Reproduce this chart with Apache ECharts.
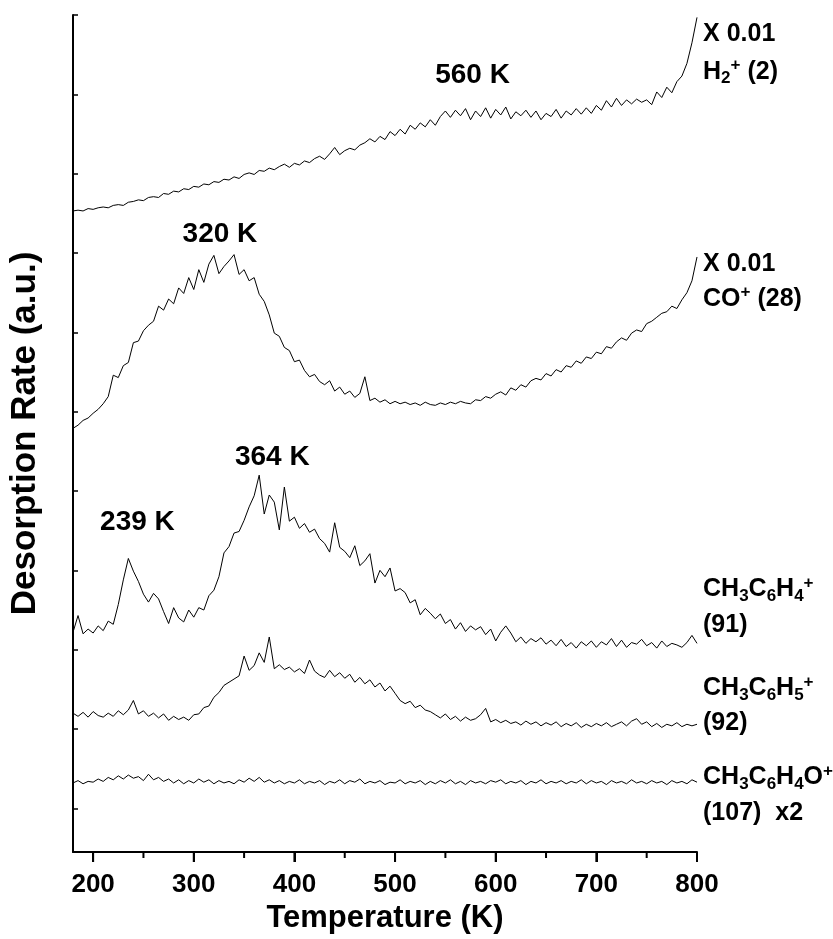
<!DOCTYPE html>
<html><head><meta charset="utf-8">
<script src="https://cdn.jsdelivr.net/npm/echarts@6/dist/echarts.min.js"></script>
<style>html,body{margin:0;padding:0;background:#fff}#c{width:833px;height:939px}</style>
</head><body><div id="c"></div>
<script>
const temperature = [
180,185,190,195,200,205,210,215,220,225,
230,235,240,245,250,255,260,265,270,275,
280,285,290,295,300,305,310,315,320,325,
330,335,340,345,350,355,360,365,370,375,
380,385,390,395,400,405,410,415,420,425,
430,435,440,445,450,455,460,465,470,475,
480,485,490,495,500,505,510,515,520,525,
530,535,540,545,550,555,560,565,570,575,
580,585,590,595,600,605,610,615,620,625,
630,635,640,645,650,655,660,665,670,675,
680,685,690,695,700,705,710,715,720,725,
730,735,740,745,750,755,760,765,770,775,
780,785,790,795,800];

const h2 = [
75.3,75.4,75.3,75.6,75.5,75.7,75.8,75.7,76.0,76.1,
76.0,76.4,76.5,76.7,76.6,77.0,77.1,77.0,77.5,77.4,
77.8,77.7,78.1,78.0,78.4,78.3,78.7,78.6,79.0,78.9,
79.3,79.2,79.6,79.4,79.9,80.1,79.9,80.4,80.3,80.7,
80.5,80.9,81.2,80.8,81.3,81.1,81.6,81.4,81.9,82.2,
81.8,82.5,83.3,82.4,82.9,83.2,83.0,83.6,83.9,84.4,
84.0,84.7,84.3,85.3,84.8,85.6,85.0,86.1,85.6,86.4,
85.9,86.8,86.1,87.2,87.9,87.1,88.0,87.3,88.2,86.8,
87.9,87.2,88.3,87.0,88.1,87.4,88.4,86.9,87.8,87.3,
88.0,87.1,87.9,86.8,87.6,87.2,88.1,87.0,87.9,87.4,
88.2,87.5,88.3,87.6,88.6,88.0,89.2,88.4,89.5,88.6,
89.3,88.8,89.4,89.0,89.3,88.7,90.3,89.6,90.9,90.2,
91.6,92.3,93.9,96.5,99.7];

const co = [
47.9,48.3,48.9,49.2,49.8,50.3,51.0,51.9,54.6,54.3,
55.8,56.2,58.7,58.9,60.2,60.9,61.4,63.3,62.8,64.2,
63.6,65.6,64.9,66.9,65.4,67.9,66.3,68.6,69.7,67.4,
68.3,69.0,69.8,67.3,67.9,66.5,66.9,64.8,63.9,62.2,
59.9,59.5,58.1,57.7,56.3,56.5,55.2,54.4,54.7,53.8,
53.4,53.9,52.6,53.1,52.2,52.6,51.8,52.3,54.4,51.4,
51.7,51.2,51.5,51.0,51.3,51.0,51.2,50.9,51.1,50.8,
51.2,50.9,50.8,51.1,50.9,51.2,51.0,51.3,51.1,51.0,
51.5,51.4,51.9,51.7,52.2,52.5,52.1,53.0,52.7,53.4,
53.1,53.9,54.2,54.0,54.8,54.5,55.3,55.0,55.8,55.6,
56.4,56.1,56.9,56.7,57.5,57.3,58.2,58.0,58.8,59.3,
59.0,59.9,60.3,60.1,61.1,61.4,61.9,62.4,62.6,63.3,
63.0,64.1,65.0,66.5,69.5];

const m91 = [
22.2,24.3,22.0,22.6,22.1,23.0,22.4,23.6,23.2,25.7,
28.8,31.5,29.9,28.6,27.0,26.0,27.1,26.4,24.8,23.3,
25.3,24.0,23.5,25.0,24.1,25.3,25.0,26.8,27.5,29.2,
32.2,33.0,34.7,34.9,36.3,38.0,39.4,42.0,37.1,39.5,
38.6,35.1,40.5,36.2,36.7,35.3,35.9,34.8,35.2,34.0,
33.4,32.3,36.0,32.9,32.4,31.6,33.1,30.6,31.2,32.1,
28.4,30.0,29.2,30.3,27.4,27.7,27.2,25.9,26.3,24.4,
25.2,24.6,23.9,24.5,23.3,23.8,22.6,23.4,22.3,23.0,
22.5,22.9,21.9,22.6,21.1,22.2,23.0,22.1,21.0,21.6,
20.8,21.4,21.0,21.5,20.7,21.2,20.5,21.3,20.4,20.9,
20.2,21.0,20.5,21.1,20.3,21.0,20.6,21.4,20.4,21.2,
20.3,20.9,20.7,21.3,20.5,20.9,20.2,21.1,20.4,20.8,
20.6,20.3,20.9,21.8,20.8];

const m92 = [
12.0,11.6,12.1,11.5,12.2,11.7,11.5,12.0,11.6,12.3,
11.8,12.4,13.6,11.9,12.3,11.6,12.0,11.4,11.9,11.1,
11.6,11.2,11.5,11.1,11.8,11.9,12.7,12.9,14.0,14.6,
15.5,15.9,16.3,16.7,19.2,17.4,18.0,19.6,18.4,21.6,
17.6,18.1,17.5,17.8,17.2,17.6,17.0,18.7,17.3,16.8,
16.5,17.4,16.6,17.1,16.4,16.9,15.9,16.5,15.7,16.2,
15.3,15.8,14.8,15.4,14.5,13.6,13.2,13.5,12.7,13.0,
12.4,12.2,11.8,11.4,11.9,11.2,11.6,11.0,11.5,11.1,
11.3,11.8,12.6,10.9,11.2,10.8,11.1,10.7,10.9,10.5,
11.0,10.6,10.9,10.4,10.8,10.5,10.9,10.3,10.7,10.4,
10.8,10.2,10.6,10.3,10.7,10.4,10.8,10.3,10.6,10.9,
10.4,11.0,11.3,10.6,10.9,10.3,10.7,10.2,10.6,10.4,
10.8,10.3,10.6,10.4,10.6];

const m107 = [
3.2,3.5,3.1,3.4,3.3,3.7,3.4,3.9,3.6,4.1,
3.7,4.2,3.8,4.0,3.5,4.3,3.6,3.9,3.4,3.7,
3.2,3.6,3.1,3.5,3.2,3.7,3.3,3.6,3.1,3.5,
3.2,3.4,3.1,3.6,3.3,3.8,3.4,3.9,3.3,3.6,
3.2,3.5,3.1,3.4,3.2,3.6,3.1,3.4,3.2,3.5,
3.0,3.4,3.2,3.6,3.1,3.5,3.3,3.7,3.1,3.4,
3.2,3.5,3.0,3.3,3.2,3.6,3.1,3.4,3.2,3.5,
3.0,3.4,3.1,3.5,3.2,3.6,3.1,3.4,3.0,3.5,
3.2,3.4,3.1,3.5,3.3,3.6,3.1,3.4,3.2,3.5,
3.0,3.4,3.2,3.6,3.1,3.4,3.2,3.5,3.1,3.4,
3.2,3.6,3.1,3.5,3.2,3.4,3.0,3.5,3.2,3.4,
3.1,3.6,3.2,3.4,3.1,3.5,3.2,3.4,3.0,3.5,
3.2,3.4,3.1,3.6,3.3];

const xTicks = [200,300,400,500,600,700,800];
const xMinorTicks = [250,350,450,550,650,750];
const yTicks = [0,10,20,30,40,50,60,70,80,90,100];

const peakLabels = [
  {text:'560 K', t:577, v:92.4},
  {text:'320 K', t:326, v:72.3},
  {text:'364 K', t:378, v:44.3},
  {text:'239 K', t:244, v:36.1}
];
const speciesLabels = [
  {text:'X 0.01', v:97.6},
  {text:'{b|H}{s|2}{p|+}{b| (2)}', v:92.8},
  {text:'X 0.01', v:68.6},
  {text:'{b|CO}{p|+}{b| (28)}', v:64.2},
  {text:'{b|CH}{s|3}{b|C}{s|6}{b|H}{s|4}{p|+}', v:27.6},
  {text:'(91)', v:23.1},
  {text:'{b|CH}{s|3}{b|C}{s|6}{b|H}{s|5}{p|+}', v:15.1},
  {text:'(92)', v:10.8},
  {text:'{b|CH}{s|3}{b|C}{s|6}{b|H}{s|4}{b|O}{p|+}', v:3.9},
  {text:'(107)  x2', v:-0.6}
];
const labelT = 806;
const Y_MIN = -5.5;

const FONT = '"Liberation Sans", Arial, Helvetica, sans-serif';
const chart = echarts.init(document.getElementById('c'), null, {renderer:'canvas'});
const pair = arr => temperature.map((t, i) => [t, arr[i]]);
const mk = (name, arr) => ({
  type:'line', name, data: pair(arr), showSymbol:false, symbol:'none',
  lineStyle:{color:'#000', width:1}, itemStyle:{color:'#000'}, silent:true, z:3
});

chart.setOption({
  animation:false,
  backgroundColor:'#fff',
  grid:{left:73, right:136, top:15, bottom:87, containLabel:false, outerBoundsMode:'none'},
  xAxis:{
    type:'value', min:180, max:800,
    name:'Temperature (K)', nameLocation:'middle', nameGap:47,
    nameTextStyle:{fontFamily:FONT, fontWeight:'bold', fontSize:31, color:'#000'},
    axisLine:{show:true, onZero:false, lineStyle:{color:'#000', width:2}},
    axisTick:{show:true, inside:false, customValues:xTicks, length:10, lineStyle:{color:'#000', width:2}},
    axisLabel:{customValues:xTicks, margin:20, fontFamily:FONT, fontWeight:'bold', fontSize:26, color:'#000'},
    splitLine:{show:false}
  },
  yAxis:{
    type:'value', min:Y_MIN, max:100,
    name:'Desorption Rate (a.u.)', nameLocation:'middle', nameGap:30,
    nameTextStyle:{fontFamily:FONT, fontWeight:'bold', fontSize:35, color:'#000'},
    axisLine:{show:true, onZero:false, lineStyle:{color:'#000', width:2}},
    axisTick:{show:true, inside:true, customValues:yTicks, length:5, lineStyle:{color:'#000', width:1.5}},
    axisLabel:{show:false}, splitLine:{show:false}
  },
  series:[mk('H2+ (2)', h2), mk('CO+ (28)', co), mk('91', m91), mk('92', m92), mk('107', m107)]
});

const rich = {
  b:{fontFamily:FONT, fontWeight:'bold', fontSize:25, lineHeight:30, fill:'#000'},
  s:{fontFamily:FONT, fontWeight:'bold', fontSize:17, lineHeight:14, verticalAlign:'bottom', fill:'#000'},
  p:{fontFamily:FONT, fontWeight:'bold', fontSize:17, lineHeight:14, verticalAlign:'top', fill:'#000'}
};
const graphics = [];
// x-axis tick marks placed through the axis scale (major + minor)
function tickMark(v, len) {
  const p = chart.convertToPixel({xAxisIndex:0, yAxisIndex:0}, [v, Y_MIN]);
  graphics.push({type:'rect', silent:true, z:100,
    shape:{x:p[0] - 1, y:p[1], width:2, height:len}, style:{fill:'#000'}});
}
xTicks.forEach(v => tickMark(v, 10));
xMinorTicks.forEach(v => tickMark(v, 6));
peakLabels.forEach(l => {
  const p = chart.convertToPixel({xAxisIndex:0, yAxisIndex:0}, [l.t, l.v]);
  graphics.push({type:'text', x:p[0], y:p[1], silent:true,
    style:{text:l.text, fontFamily:FONT, fontWeight:'bold', fontSize:28, fill:'#000', align:'center', verticalAlign:'middle'}});
});
speciesLabels.forEach(l => {
  const p = chart.convertToPixel({xAxisIndex:0, yAxisIndex:0}, [labelT, l.v]);
  graphics.push({type:'text', x:p[0], y:p[1], silent:true,
    style:{text:l.text, rich:rich, fontFamily:FONT, fontWeight:'bold', fontSize:25, fill:'#000', align:'left', verticalAlign:'middle'}});
});
chart.setOption({graphic:graphics});
</script></body></html>
